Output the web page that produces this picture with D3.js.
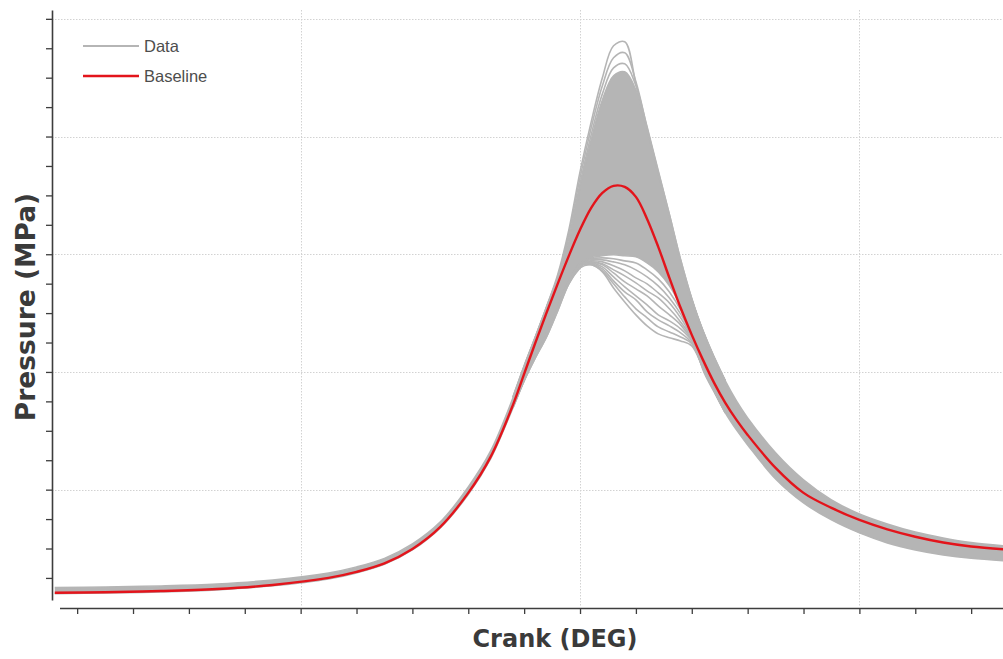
<!DOCTYPE html>
<html>
<head>
<meta charset="utf-8">
<script src="https://cdn.jsdelivr.net/npm/d3@7"></script>
<style>
  html, body { margin: 0; padding: 0; background: #ffffff; }
  svg { display: block; }
</style>
</head>
<body>
<svg id="chart" width="1003" height="659"></svg>
<script>
// Crank angle samples (deg) shared by the baseline and the data envelope
const crankAngles = [-94, -85, -75, -65, -55, -45, -40, -35, -30, -25, -20, -16, -12, -10, -8, -6, -4, -2,
  0, 2, 4, 6, 8, 10, 12, 14, 16, 18, 20, 22, 24, 26, 28, 30, 35, 40, 45, 50, 55, 60, 65, 70, 76];

// Baseline cylinder pressure (MPa)
const baselinePressure = [0.99, 1.03, 1.11, 1.25, 1.52, 2.00, 2.41, 2.99, 3.97, 5.47, 7.78, 10.23, 13.76, 15.87,
  17.98, 20.02, 21.99, 23.89, 25.66, 27.15, 28.17, 28.65, 28.58, 27.90, 26.40, 24.50, 22.39, 20.36, 18.52,
  16.82, 15.26, 13.90, 12.74, 11.72, 9.48, 7.78, 6.76, 5.94, 5.30, 4.80, 4.41, 4.14, 3.94];

// Upper and lower bounds of the densely packed measured cycles (MPa)
const dataBandMax = [1.35, 1.39, 1.46, 1.59, 1.86, 2.34, 2.75, 3.33, 4.31, 5.81, 8.19, 10.63, 14.24, 16.34,
  18.38, 20.36, 22.33, 24.84, 28.51, 31.78, 34.49, 36.13, 36.40, 35.17, 32.46, 29.46, 26.54, 23.48, 20.90,
  18.79, 16.96, 15.39, 14.03, 12.88, 10.50, 8.66, 7.30, 6.35, 5.67, 5.12, 4.72, 4.41, 4.18];
const dataBandMin = [0.93, 0.97, 1.04, 1.18, 1.46, 1.93, 2.34, 2.92, 3.90, 5.40, 7.67, 10.09, 13.56, 15.39,
  16.95, 18.38, 20.15, 21.99, 23.07, 23.75, 23.89, 23.96, 23.89, 23.82, 23.41, 22.80, 21.85, 20.49, 18.72,
  16.14, 14.64, 13.22, 12.06, 11.04, 8.73, 7.10, 5.94, 5.06, 4.38, 3.90, 3.56, 3.33, 3.16];

// Combustion window (deg) where individual cycles separate from the bundle
const combustionAngles = [-12, -10, -8, -6, -4, -2, 0, 2, 4, 6, 8, 10, 12, 14, 16, 18, 20, 22, 24, 26];

// Weakest measured cycle (MPa)
const lowestCycle = [13.56, 15.39, 16.95, 18.38, 20.15, 21.99, 23.07, 23.28, 22.80, 21.71, 20.76, 19.88,
  19.13, 18.59, 18.32, 18.11, 17.77, 16.28, 14.78, 13.29];

// Late-burning cycles below the bundle (MPa)
const lateCycles = [
  [13.69, 15.53, 17.16, 18.66, 20.42, 22.19, 23.41, 23.69, 23.75, 23.69, 23.55, 23.41, 22.94, 22.33, 21.44, 20.22, 18.59, 16.41, 14.85, 13.35],
  [13.63, 15.46, 17.09, 18.59, 20.36, 22.12, 23.41, 23.62, 23.62, 23.48, 23.28, 22.94, 22.46, 21.85, 21.03, 19.95, 18.52, 16.41, 14.85, 13.29],
  [13.69, 15.53, 17.16, 18.66, 20.42, 22.19, 23.35, 23.55, 23.48, 23.21, 22.87, 22.39, 21.99, 21.37, 20.69, 19.68, 18.38, 16.34, 14.78, 13.29],
  [13.63, 15.46, 17.09, 18.59, 20.36, 22.12, 23.35, 23.48, 23.35, 22.94, 22.53, 22.05, 21.51, 21.03, 20.29, 19.40, 18.32, 16.34, 14.78, 13.29],
  [13.69, 15.46, 17.16, 18.59, 20.42, 22.19, 23.28, 23.48, 23.28, 22.73, 22.12, 21.65, 21.17, 20.49, 19.88, 19.20, 18.18, 16.34, 14.78, 13.29],
  [13.63, 15.53, 17.09, 18.66, 20.36, 22.12, 23.28, 23.41, 23.14, 22.46, 21.78, 21.17, 20.56, 19.88, 19.47, 18.93, 18.11, 16.28, 14.78, 13.29],
  [13.69, 15.46, 17.16, 18.59, 20.42, 22.19, 23.28, 23.35, 23.01, 22.19, 21.44, 20.90, 20.08, 19.54, 19.13, 18.66, 17.98, 16.28, 14.71, 13.22],
  [13.63, 15.46, 17.09, 18.59, 20.36, 22.12, 23.21, 23.28, 22.87, 21.99, 21.10, 20.29, 19.68, 19.06, 18.72, 18.38, 17.91, 16.28, 14.71, 13.22]
];

// Strongest cycles at the top of the bundle (MPa)
const strongCycles = [
  [14.30, 16.41, 18.38, 20.42, 22.60, 25.66, 29.60, 33.00, 35.99, 38.17, 38.44, 35.58, 32.46, 29.46, 26.54, 23.48, 20.90, 18.79, 16.96, 15.39],
  [14.30, 16.41, 18.38, 20.42, 22.46, 25.39, 29.19, 32.59, 35.45, 37.35, 37.69, 35.72, 32.59, 29.60, 26.68, 23.62, 20.97, 18.79, 17.02, 15.39],
  [14.24, 16.34, 18.32, 20.36, 22.39, 25.11, 28.78, 32.12, 34.90, 36.67, 36.94, 35.45, 32.66, 29.67, 26.68, 23.62, 20.97, 18.72, 16.96, 15.39]
];

// Axis ticks and grid positions
const pressureTicks = [2, 4, 6, 8, 10, 12, 14, 16, 18, 20, 22, 24, 26, 28, 30, 32, 34, 36, 38, 40];
const pressureGrid = [8, 16, 24, 32, 40];
const crankTicks = [-90, -80, -70, -60, -50, -40, -30, -20, -10, 0, 10, 20, 30, 40, 50, 60, 70];
const crankGrid = [-50, 0, 50];

const legendItems = ["Data", "Baseline"];

const DATA_GREY = "#b5b5b5";
const BASE_RED = "#e3141b";
const AXIS_INK = "#3d3d3d";

const svg = d3.select("#chart");
const plot = { left: 52, right: 1003, top: 10, bottom: 600 };

const x = d3.scaleLinear().domain([-94.5, 75.7]).range([plot.left, plot.right]);
const y = d3.scaleLinear().domain([0.5, 40.6]).range([plot.bottom, plot.top]);

svg.append("defs").append("clipPath").attr("id", "plot-clip")
  .append("rect")
  .attr("x", plot.left + 1).attr("y", plot.top)
  .attr("width", plot.right - plot.left).attr("height", plot.bottom - plot.top);

// Dotted grid
const grid = svg.append("g").attr("class", "grid");
grid.selectAll("line.h").data(pressureGrid).join("line")
  .attr("class", "h")
  .attr("x1", plot.left).attr("x2", plot.right)
  .attr("y1", d => Math.round(y(d)) + 0.5).attr("y2", d => Math.round(y(d)) + 0.5)
  .attr("stroke", "#d2d2d2").attr("stroke-width", 1).attr("stroke-dasharray", "1.5,1.5");
grid.selectAll("line.v").data(crankGrid).join("line")
  .attr("class", "v")
  .attr("x1", d => Math.round(x(d)) + 0.5).attr("x2", d => Math.round(x(d)) + 0.5)
  .attr("y1", plot.top).attr("y2", 607)
  .attr("stroke", "#d2d2d2").attr("stroke-width", 1).attr("stroke-dasharray", "1.5,1.5");

const curve = d3.curveCatmullRom.alpha(0.5);
const series = svg.append("g").attr("clip-path", "url(#plot-clip)");

// Dense bundle of measured cycles
const band = d3.area()
  .x((d, i) => x(crankAngles[i]))
  .y0((d, i) => y(dataBandMin[i]))
  .y1((d, i) => y(dataBandMax[i]))
  .curve(curve);
series.append("path")
  .datum(crankAngles)
  .attr("d", band)
  .attr("fill", DATA_GREY);

const fullLine = d3.line().x((d, i) => x(crankAngles[i])).y(d => y(d)).curve(curve);
const windowLine = d3.line().x((d, i) => x(combustionAngles[i])).y(d => y(d)).curve(curve);

[dataBandMax, dataBandMin].forEach(vals => {
  series.append("path").datum(vals).attr("d", fullLine)
    .attr("fill", "none").attr("stroke", DATA_GREY).attr("stroke-width", 1.5);
});

[...lateCycles, lowestCycle, ...strongCycles].forEach(vals => {
  series.append("path").datum(vals).attr("d", windowLine)
    .attr("fill", "none").attr("stroke", DATA_GREY).attr("stroke-width", 1.6)
    .attr("stroke-linejoin", "round");
});

// Baseline
series.append("path").datum(baselinePressure).attr("d", fullLine)
  .attr("fill", "none").attr("stroke", BASE_RED).attr("stroke-width", 2.4)
  .attr("stroke-linejoin", "round");

// Axes (no tick labels)
const yAxis = svg.append("g")
  .attr("transform", `translate(${plot.left},0)`)
  .call(d3.axisLeft(y).tickValues(pressureTicks).tickFormat("").tickSize(6).tickSizeOuter(0));
yAxis.select(".domain").attr("stroke", AXIS_INK).attr("stroke-width", 1.6);
yAxis.selectAll(".tick line").attr("stroke", AXIS_INK).attr("stroke-width", 1.3);

const xAxis = svg.append("g")
  .attr("transform", "translate(0,608)")
  .call(d3.axisBottom(x).tickValues(crankTicks).tickFormat("").tickSize(6).tickSizeOuter(0));
xAxis.select(".domain").attr("d", `M60,0.5H${plot.right}`)
  .attr("stroke", AXIS_INK).attr("stroke-width", 1.6);
xAxis.selectAll(".tick line").attr("stroke", AXIS_INK).attr("stroke-width", 1.3);

// Axis titles
svg.append("text")
  .attr("transform", "translate(35,307) rotate(-90)")
  .attr("text-anchor", "middle")
  .attr("font-family", "DejaVu Sans, Verdana, sans-serif")
  .attr("font-weight", "bold").attr("font-size", 26.5)
  .attr("fill", "#3a3a3a")
  .text("Pressure (MPa)");

svg.append("text")
  .attr("x", 555).attr("y", 647)
  .attr("text-anchor", "middle")
  .attr("font-family", "DejaVu Sans, Verdana, sans-serif")
  .attr("font-weight", "bold").attr("font-size", 24)
  .attr("fill", "#3a3a3a")
  .text("Crank (DEG)");

// Legend
const legend = svg.append("g").attr("class", "legend");
const legendColors = [DATA_GREY, BASE_RED];
const legendWidths = [2, 2.6];
legendItems.forEach((name, i) => {
  const cy = 46 + i * 30;
  legend.append("line")
    .attr("x1", 83).attr("x2", 139).attr("y1", cy).attr("y2", cy)
    .attr("stroke", legendColors[i]).attr("stroke-width", legendWidths[i]);
  legend.append("text")
    .attr("x", 144).attr("y", cy + 6)
    .attr("font-family", "Liberation Sans, Arial, sans-serif")
    .attr("font-size", 16.5)
    .attr("fill", "#4d4d4d")
    .text(name);
});
</script>
</body>
</html>
